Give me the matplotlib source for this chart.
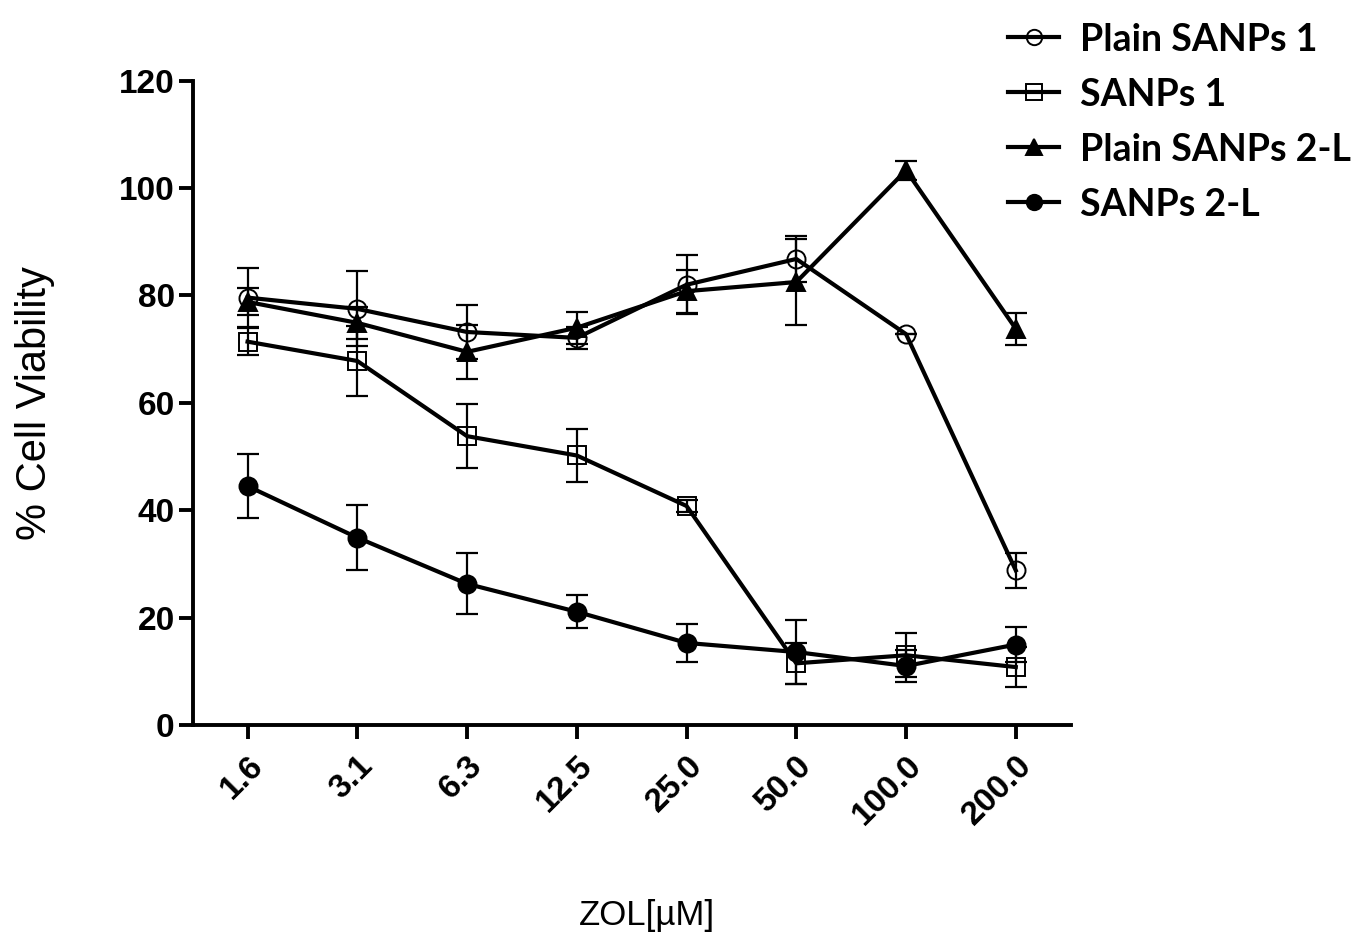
import numpy as np
import matplotlib
matplotlib.use('agg')
import matplotlib.pyplot as plt

# concentrations (categorical x axis)
conc = ["1.6", "3.1", "6.3", "12.5", "25.0", "50.0", "100.0", "200.0"]

# mean % viability and error for each formulation
plain1 = [79.6, 77.5, 73.2, 72.1, 82.0, 86.8, 72.8, 28.8]
plain1_err = [5.5, 7.0, 5.0, 2.0, 5.5, 4.2, 0.0, 3.2]
sanps1 = [71.4, 67.8, 53.8, 50.2, 40.8, 11.5, 13.0, 10.8]
sanps1_err = [2.5, 6.5, 6.0, 4.9, 1.2, 3.8, 4.1, 3.8]
plain2 = [78.8, 74.9, 69.5, 74.0, 80.8, 82.5, 103.3, 73.8]
plain2_err = [2.5, 3.0, 5.0, 3.0, 4.0, 8.0, 1.8, 3.0]
sanps2 = [44.5, 34.9, 26.3, 21.1, 15.3, 13.6, 11.0, 15.0]
sanps2_err = [6.0, 6.1, 5.7, 3.1, 3.6, 6.0, 3.0, 3.3]

names = ["Plain SANPs 1", "SANPs 1", "Plain SANPs 2-L", "SANPs 2-L"]

fig = plt.figure(figsize=(13.57, 9.38), dpi=100)
ax = fig.add_axes([0.142, 0.227, 0.647, 0.687])

x = np.arange(len(conc))
series = [
    (plain1, plain1_err, 'o', 'none'),
    (sanps1, sanps1_err, 's', 'none'),
    (plain2, plain2_err, '^', 'black'),
    (sanps2, sanps2_err, 'o', 'black'),
]
handles = []
for (vals, errs, mk, fc), name in zip(series, names):
    ax.errorbar(x, vals, yerr=errs, fmt='none', ecolor='black',
                elinewidth=1.6, capsize=8, capthick=1.6, zorder=2)
    ln, = ax.plot(x, vals, color='black', lw=3, marker=mk, markersize=13,
                  markerfacecolor=fc, markeredgecolor='black',
                  markeredgewidth=1.4, label=name, zorder=3)
    handles.append(ln)

ax.set_xlim(-0.5, 7.5)
ax.set_ylim(0, 120)
ax.set_yticks(np.arange(0, 121, 20))
ax.set_xticks(x)
ax.set_xticklabels(conc, rotation=45, ha='right', rotation_mode='anchor')

for s in ['top', 'right']:
    ax.spines[s].set_visible(False)
for s in ['left', 'bottom']:
    ax.spines[s].set_linewidth(2.8)
ax.tick_params(axis='both', direction='out', length=10, width=2.8)
ax.tick_params(axis='y', pad=3)
ax.tick_params(axis='x', pad=8)

for lab in ax.get_yticklabels():
    lab.set_fontfamily('Liberation Sans')
    lab.set_fontweight('bold')
    lab.set_fontsize(24)
for lab in ax.get_xticklabels():
    lab.set_fontfamily('Liberation Sans')
    lab.set_fontweight('bold')
    lab.set_fontsize(24)

ax.set_ylabel("% Cell Viability", fontsize=30, family='Liberation Sans', labelpad=46)
fig.text(0.477, 0.024, "ZOL[\u00b5M]", fontsize=25, family='Liberation Sans',
         ha='center', va='center')

leg = fig.legend(handles=handles, loc='upper left', bbox_to_anchor=(0.743, 0.976),
                 frameon=False, prop={'family': 'Lato', 'weight': 'bold', 'size': 27},
                 handlelength=1.35, handletextpad=0.55, labelspacing=0.56,
                 markerscale=0.85, borderpad=0, borderaxespad=0)

fig.savefig("out.png", dpi=100)
